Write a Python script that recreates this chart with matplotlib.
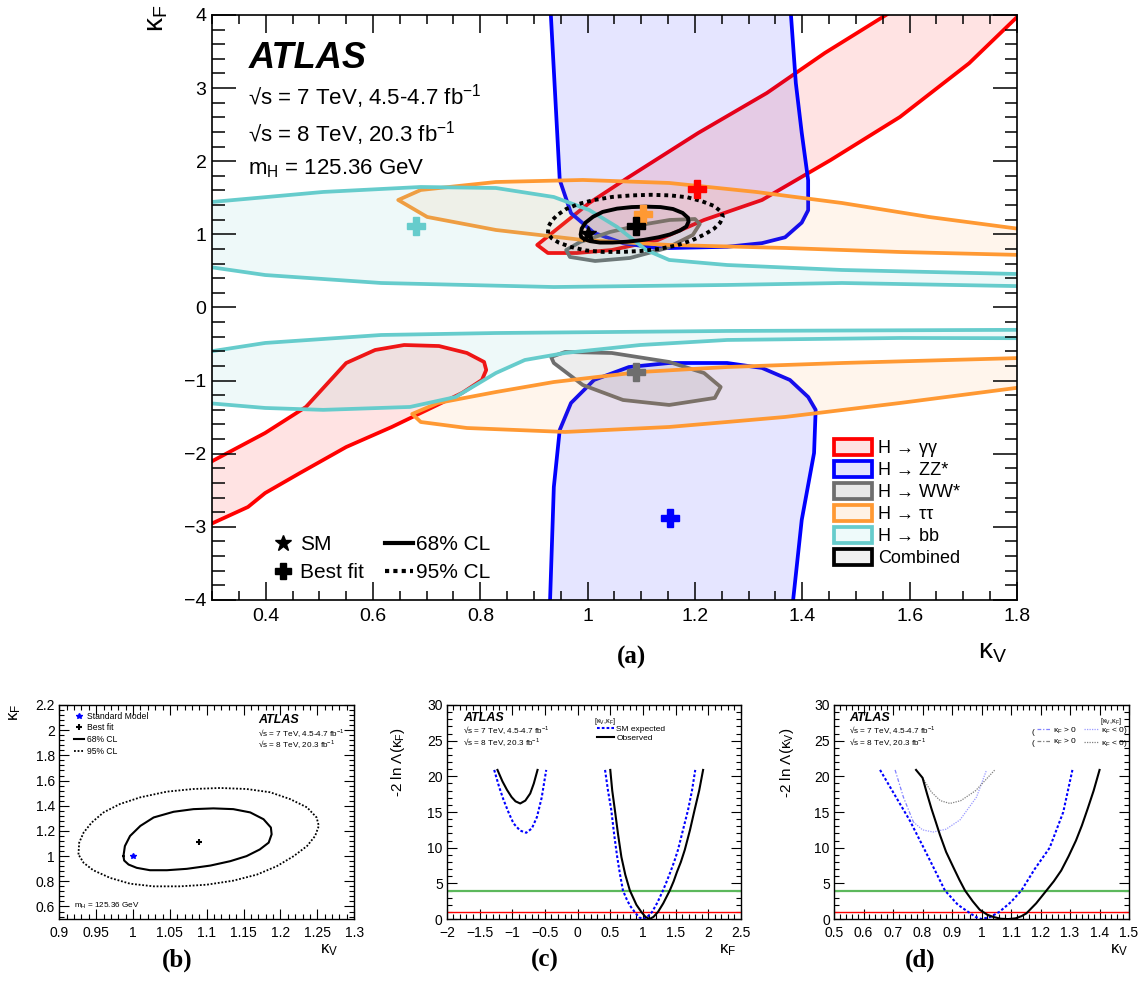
import matplotlib
matplotlib.use("Agg")
import matplotlib.pyplot as plt
from matplotlib.patches import Patch
from matplotlib.lines import Line2D
from matplotlib.ticker import MultipleLocator, FuncFormatter

plt.rcParams["font.family"] = ["Liberation Sans", "DejaVu Sans"]
plt.rcParams["mathtext.fontset"] = "custom"
plt.rcParams["mathtext.rm"] = "Liberation Sans"
plt.rcParams["mathtext.it"] = "Liberation Sans:italic"
plt.rcParams["mathtext.bf"] = "Liberation Sans:bold"

# ---- panel (a): 68% CL contours per channel, (kappa_V, kappa_F) ----
gg_up_kv = [0.926, 0.906, 1.003, 1.077, 1.206, 1.334, 1.442, 1.60, 1.83, 1.80, 1.711, 1.582, 1.453, 1.325, 1.217, 1.131, 1.045, 0.980]
gg_up_kf = [0.745, 0.855, 1.429, 1.785, 2.386, 2.933, 3.48, 4.2, 4.2, 3.97, 3.34, 2.605, 2.017, 1.47, 1.197, 0.923, 0.786, 0.745]
gg_lo_kv = [0.28, 0.399, 0.475, 0.550, 0.604, 0.658, 0.723, 0.775, 0.807, 0.811, 0.803, 0.766, 0.701, 0.635, 0.550, 0.464, 0.399, 0.367, 0.28]
gg_lo_kf = [-2.18, -1.716, -1.36, -0.759, -0.581, -0.513, -0.527, -0.622, -0.745, -0.855, -0.991, -1.169, -1.40, -1.634, -1.908, -2.263, -2.537, -2.728, -3.02]

zz_up_kv = [0.930, 0.948, 0.969, 1.012, 1.066, 1.131, 1.260, 1.325, 1.368, 1.399, 1.411, 1.411, 1.399, 1.388, 1.377]
zz_up_kf = [4.2, 1.744, 1.29, 1.02, 0.88, 0.81, 0.83, 0.88, 0.96, 1.16, 1.33, 1.74, 2.39, 3.07, 4.2]
zz_lo_kv = [0.929, 0.930, 0.937, 0.948, 0.969, 1.012, 1.077, 1.152, 1.260, 1.325, 1.377, 1.411, 1.425, 1.422, 1.399, 1.383, 1.381]
zz_lo_kf = [-4.2, -4.0, -2.455, -1.675, -1.306, -0.991, -0.814, -0.759, -0.759, -0.827, -0.991, -1.224, -1.40, -1.99, -2.906, -4.0, -4.2]

ww_up_kv = [0.960, 0.986, 1.042, 1.098, 1.153, 1.200, 1.209, 1.196, 1.148, 1.079, 1.014, 0.967]
ww_up_kf = [0.786, 0.896, 1.033, 1.128, 1.197, 1.210, 1.142, 0.992, 0.814, 0.677, 0.636, 0.691]
ww_lo_kv = [0.932, 0.958, 1.045, 1.152, 1.217, 1.248, 1.237, 1.152, 1.066, 0.991, 0.937]
ww_lo_kf = [-0.677, -0.608, -0.622, -0.745, -0.896, -1.087, -1.237, -1.333, -1.265, -1.060, -0.759]

tt_up_kv = [0.647, 0.689, 0.829, 0.991, 1.152, 1.314, 1.474, 1.636, 1.82, 1.82, 1.582, 1.368, 1.152, 0.991, 0.829, 0.701]
tt_up_kf = [1.470, 1.607, 1.716, 1.744, 1.703, 1.580, 1.429, 1.238, 1.06, 0.716, 0.759, 0.814, 0.855, 0.923, 1.060, 1.238]
tt_lo_kv = [0.673, 0.721, 0.829, 0.937, 1.098, 1.260, 1.474, 1.82, 1.82, 1.582, 1.368, 1.152, 0.958, 0.775, 0.689]
tt_lo_kf = [-1.456, -1.306, -1.156, -1.019, -0.882, -0.814, -0.759, -0.688, -1.08, -1.306, -1.497, -1.634, -1.702, -1.648, -1.566]

bb_up_kv = [0.28, 0.507, 0.689, 0.829, 0.937, 1.003, 1.055, 1.109, 1.152, 1.260, 1.474, 1.82, 1.82, 1.474, 1.260, 0.937, 0.615, 0.399, 0.28]
bb_up_kf = [1.43, 1.580, 1.648, 1.634, 1.511, 1.333, 1.101, 0.786, 0.650, 0.581, 0.513, 0.455, 0.29, 0.335, 0.308, 0.280, 0.335, 0.444, 0.57]
bb_lo_kv = [0.28, 0.399, 0.615, 0.829, 1.045, 1.260, 1.82, 1.82, 1.582, 1.260, 1.098, 0.958, 0.883, 0.829, 0.754, 0.669, 0.507, 0.399, 0.28]
bb_lo_kf = [-0.62, -0.485, -0.376, -0.349, -0.335, -0.321, -0.305, -0.42, -0.417, -0.444, -0.513, -0.622, -0.718, -0.896, -1.224, -1.36, -1.40, -1.374, -1.30]

# combined contours (same in panels a and b)
cl68_kv = [0.987, 0.989, 0.996, 1.010, 1.028, 1.055, 1.082, 1.109, 1.136, 1.159, 1.177, 1.187, 1.188,
           1.184, 1.172, 1.154, 1.132, 1.105, 1.073, 1.046, 1.023, 1.005, 0.994, 0.988]
cl68_kf = [1.000, 1.080, 1.160, 1.240, 1.307, 1.352, 1.373, 1.379, 1.373, 1.347, 1.293, 1.227, 1.173,
           1.107, 1.053, 1.000, 0.960, 0.925, 0.899, 0.888, 0.888, 0.907, 0.933, 0.965]
cl95_kv = [0.926, 0.927, 0.933, 0.944, 0.960, 0.982, 1.010, 1.046, 1.082, 1.118, 1.154, 1.186, 1.213, 1.236,
           1.249, 1.252, 1.247, 1.236, 1.218, 1.195, 1.168, 1.136, 1.100, 1.064, 1.028, 0.996, 0.969, 0.946, 0.933]
cl95_kf = [1.013, 1.107, 1.187, 1.267, 1.347, 1.413, 1.467, 1.512, 1.533, 1.541, 1.533, 1.507, 1.453, 1.387,
           1.307, 1.240, 1.160, 1.080, 1.000, 0.920, 0.853, 0.805, 0.773, 0.760, 0.760, 0.781, 0.827, 0.888, 0.947]

# best-fit points: gg, ZZ, WW, tautau, bb, combined
bf_kv = [1.204, 1.153, 1.090, 1.103, 0.680, 1.09]
bf_kf = [1.62, -2.88, -0.88, 1.28, 1.115, 1.11]
sm_kv, sm_kf = 1.0, 1.0

# ---- panel (c): -2 ln Lambda(kappa_F) ----
c_obs_r_kf = [0.50, 0.53, 0.57, 0.62, 0.67, 0.73, 0.80, 0.86, 0.90, 0.975, 1.04, 1.10, 1.16, 1.23, 1.31,
              1.41, 1.47, 1.52, 1.58, 1.64, 1.72, 1.79, 1.86, 1.92]
c_obs_r_y = [20.9, 18.0, 15.3, 11.8, 8.7, 6.2, 4.0, 2.8, 2.0, 1.0, 0.3, 0.0, 0.3, 1.0, 2.2,
             4.0, 5.3, 6.6, 8.0, 9.7, 12.5, 15.3, 18.0, 20.9]
c_exp_r_kf = [0.42, 0.465, 0.515, 0.56, 0.606, 0.65, 0.694, 0.75, 0.80, 0.873, 0.94, 1.0, 1.06, 1.14,
              1.22, 1.306, 1.36, 1.42, 1.48, 1.536, 1.61, 1.69, 1.75, 1.80]
c_exp_r_y = [20.9, 18.0, 15.3, 11.8, 8.7, 6.2, 4.0, 2.8, 1.9, 1.0, 0.25, 0.0, 0.25, 1.0,
             2.3, 4.0, 5.2, 6.6, 8.1, 9.7, 12.4, 15.3, 18.0, 20.9]
c_obs_l_kf = [-1.226, -1.15, -1.08, -1.01, -0.95, -0.878, -0.80, -0.725, -0.67, -0.613]
c_obs_l_y = [20.9, 19.3, 18.1, 17.1, 16.5, 16.2, 16.6, 17.6, 19.0, 20.9]
c_exp_l_kf = [-1.276, -1.20, -1.133, -1.05, -0.98, -0.88, -0.786, -0.70, -0.622, -0.55, -0.48]
c_exp_l_y = [20.9, 18.5, 16.7, 14.8, 13.4, 12.4, 12.1, 12.7, 14.3, 17.0, 20.9]

# ---- panel (d): -2 ln Lambda(kappa_V) ----
d_exp_kv = [0.656, 0.70, 0.757, 0.80, 0.84, 0.876, 0.92, 0.955, 0.98, 1.0, 1.03, 1.06, 1.10, 1.135,
            1.18, 1.231, 1.277, 1.308]
d_exp_y = [20.9, 17.8, 13.8, 10.3, 7.0, 4.0, 2.0, 1.0, 0.3, 0.0, 0.3, 1.0, 2.4, 4.0,
           7.0, 10.0, 15.0, 20.9]
d_obs_kv = [0.778, 0.80, 0.815, 0.83, 0.845, 0.859, 0.88, 0.904, 0.925, 0.944, 0.97, 0.994, 1.02, 1.04,
            1.065, 1.09, 1.115, 1.135, 1.152, 1.185, 1.22, 1.245, 1.27, 1.295, 1.32, 1.34, 1.36, 1.38, 1.40]
d_obs_y = [20.9, 19.8, 17.6, 15.5, 13.6, 11.8, 9.4, 7.3, 5.5, 4.0, 2.5, 1.3, 0.6, 0.3,
           0.05, 0.0, 0.1, 0.4, 0.8, 2.2, 4.0, 5.3, 6.8, 8.8, 11.0, 13.1, 15.5, 18.0, 20.9]
d_exp_pos_kv = [0.707, 0.735, 0.769]
d_exp_pos_y = [20.9, 17.1, 13.6]
d_exp_neg_kv = [0.769, 0.80, 0.836, 0.88, 0.927, 0.983, 1.017]
d_exp_neg_y = [13.6, 12.5, 12.2, 12.6, 13.9, 17.1, 20.9]
d_obs_neg_kv = [0.80, 0.83, 0.86, 0.893, 0.93, 0.98, 1.045]
d_obs_neg_y = [19.8, 17.8, 16.6, 16.2, 16.6, 18.0, 20.9]


def num(v, pos):
    v = round(v, 6)
    if v == 0:
        v = 0.0
    return ("%g" % v).replace("-", "\u2212")


red, blue, grey, orange, cyan = "#ff0000", "#0000ff", "#6e6e6e", "#ff9933", "#66cccc"
fills = {red: (1, 0, 0, 0.11), blue: (0, 0, 1, 0.10), grey: (0.43, 0.43, 0.43, 0.12),
         orange: (1, 0.6, 0.2, 0.09), cyan: (0.4, 0.8, 0.8, 0.11)}

fig = plt.figure(figsize=(11.4, 9.99), dpi=100)

# ================= (a) =================
ax = fig.add_axes([0.186, 0.3994, 0.706, 0.5856])
shapes = [(gg_up_kv, gg_up_kf, red), (gg_lo_kv, gg_lo_kf, red),
          (zz_up_kv, zz_up_kf, blue), (zz_lo_kv, zz_lo_kf, blue),
          (ww_up_kv, ww_up_kf, grey), (ww_lo_kv, ww_lo_kf, grey),
          (tt_up_kv, tt_up_kf, orange), (tt_lo_kv, tt_lo_kf, orange),
          (bb_up_kv, bb_up_kf, cyan), (bb_lo_kv, bb_lo_kf, cyan)]
for kv, kf, col in shapes:
    ax.fill(kv, kf, facecolor=fills[col], edgecolor=col, lw=2.7, joinstyle="round")

ax.fill(cl68_kv, cl68_kf, facecolor=(0.5, 0.5, 0.5, 0.06), edgecolor="k", lw=2.8)
ax.plot(cl95_kv + cl95_kv[:1], cl95_kf + cl95_kf[:1], color="k", lw=2.8, ls=(0, (1, 1)))

bf_cols = [red, blue, grey, orange, cyan, "k"]
for x, y, c in zip(bf_kv, bf_kf, bf_cols):
    ax.plot(x, y, marker="P", ms=13, color=c, mec=c, ls="none", zorder=5)
ax.plot(sm_kv, sm_kf, marker="*", ms=12, color="k", ls="none", zorder=6)

ax.set_xlim(0.3, 1.8)
ax.set_ylim(-4, 4)
ax.xaxis.set_major_locator(MultipleLocator(0.2))
ax.xaxis.set_minor_locator(MultipleLocator(0.05))
ax.yaxis.set_major_locator(MultipleLocator(1))
ax.yaxis.set_minor_locator(MultipleLocator(0.2))
ax.xaxis.set_major_formatter(FuncFormatter(num))
ax.yaxis.set_major_formatter(FuncFormatter(num))
ax.tick_params(which="both", direction="in", top=True, right=True, labelsize=14, width=1.1)
ax.tick_params(axis="x", which="major", length=13, pad=6)
ax.tick_params(axis="x", which="minor", length=6.5)
ax.tick_params(axis="y", which="major", length=17, pad=4)
ax.tick_params(axis="y", which="minor", length=9)
for s in ax.spines.values():
    s.set_linewidth(1.2)

ax.text(0.045, 0.926, "ATLAS", transform=ax.transAxes, fontsize=26, fontweight="bold",
        fontstyle="italic", va="center")
ax.text(0.045, 0.861, "√s = 7 TeV, 4.5-4.7 fb$^{-1}$", transform=ax.transAxes, fontsize=16, va="center")
ax.text(0.045, 0.798, "√s = 8 TeV, 20.3 fb$^{-1}$", transform=ax.transAxes, fontsize=16, va="center")
ax.text(0.045, 0.738, "m$_{\\rm H}$ = 125.36 GeV", transform=ax.transAxes, fontsize=16, va="center")

leg_cols = [red, blue, grey, orange, cyan, "k"]
leg_fill = ["#ffe3e3", "#e3e3ff", "#e8e8e8", "#fff2e6", "#eefafa", "#f0f0f0"]
leg_labels = ["H → γγ", "H → ZZ*", "H → WW*", "H → ττ", "H → bb", "Combined"]
handles = [Patch(facecolor=f, edgecolor=c, lw=2.7) for c, f in zip(leg_cols, leg_fill)]
leg1 = ax.legend(handles, leg_labels, loc="upper left", bbox_to_anchor=(0.773, 0.275),
                 frameon=False, fontsize=13, handlelength=2.1, handleheight=0.95,
                 labelspacing=0.22, handletextpad=0.35, borderpad=0, borderaxespad=0)
ax.add_artist(leg1)

h2 = [Line2D([], [], marker="*", ms=12, color="k", ls="none"),
      Line2D([], [], marker="P", ms=12, color="k", ls="none"),
      Line2D([], [], color="k", lw=3),
      Line2D([], [], color="k", lw=3, ls=(0, (1, 1)))]
ax.legend(h2, ["SM", "Best fit", "68% CL", "95% CL"], ncol=2, loc="lower left",
          bbox_to_anchor=(0.071, 0.03), frameon=False, fontsize=15, handlelength=1.35,
          handletextpad=0.15, labelspacing=0.45, columnspacing=1.0, borderpad=0,
          borderaxespad=0)

fig.text(0.138, 0.982, "κ$_{\\rm F}$", rotation=90, fontsize=20, ha="center", va="center")
fig.text(0.871, 0.347, "κ$_{\\rm V}$", fontsize=20, ha="center", va="center")


def small_axes(a):
    a.tick_params(which="both", direction="in", top=True, right=True, labelsize=10, width=0.8)
    a.tick_params(which="major", length=7, pad=3)
    a.tick_params(axis="x", which="major", pad=5)
    a.tick_params(which="minor", length=3.5)
    a.xaxis.set_major_formatter(FuncFormatter(num))
    a.yaxis.set_major_formatter(FuncFormatter(num))
    for s in a.spines.values():
        s.set_linewidth(1.0)


def lumi_text(a, x, y, size=9):
    a.text(x, y, "ATLAS", transform=a.transAxes, fontsize=size, fontweight="bold",
           fontstyle="italic", va="center")
    a.text(x, y - 0.058, "√s = 7 TeV, 4.5-4.7 fb$^{-1}$", transform=a.transAxes, fontsize=5.9, va="center")
    a.text(x, y - 0.112, "√s = 8 TeV, 20.3 fb$^{-1}$", transform=a.transAxes, fontsize=5.9, va="center")


# ================= (b) =================
axb = fig.add_axes([0.052, 0.080, 0.2587, 0.2143])
axb.plot(cl68_kv + cl68_kv[:1], cl68_kf + cl68_kf[:1], color="k", lw=1.5)
axb.plot(cl95_kv + cl95_kv[:1], cl95_kf + cl95_kf[:1], color="k", lw=1.3, ls=(0, (1, 1)))
axb.plot(sm_kv, sm_kf, marker="*", ms=4, color="blue", ls="none")
axb.plot(bf_kv[-1], bf_kf[-1], marker="+", ms=5, mew=1.5, color="k", ls="none")
axb.set_xlim(0.9, 1.3)
axb.set_ylim(0.5, 2.2)
axb.xaxis.set_major_locator(MultipleLocator(0.05))
axb.xaxis.set_minor_locator(MultipleLocator(0.01))
axb.yaxis.set_major_locator(MultipleLocator(0.2))
axb.yaxis.set_minor_locator(MultipleLocator(0.04))
small_axes(axb)
lumi_text(axb, 0.674, 0.928)
axb.text(0.05, 0.06, "m$_{\\rm H}$ = 125.36 GeV", transform=axb.transAxes, fontsize=5.9, va="center")
hb = [Line2D([], [], marker="*", ms=4, color="blue", ls="none"),
      Line2D([], [], marker="+", ms=5, mew=1.5, color="k", ls="none"),
      Line2D([], [], color="k", lw=1.5),
      Line2D([], [], color="k", lw=1.3, ls=(0, (1, 1)))]
axb.legend(hb, ["Standard Model", "Best fit", "68% CL", "95% CL"], loc="upper left",
           bbox_to_anchor=(0.05, 0.968), frameon=False, fontsize=6.2, handlelength=1.2,
           handletextpad=0.25, labelspacing=0.3, borderpad=0, borderaxespad=0)
fig.text(0.013, 0.287, "κ$_{\\rm F}$", rotation=90, fontsize=12, ha="center", va="center")
fig.text(0.289, 0.049, "κ$_{\\rm V}$", fontsize=12, ha="center", va="center")

# ================= (c) =================
axc = fig.add_axes([0.392, 0.080, 0.258, 0.2143])
axc.axhline(4, color="#5cb85c", lw=1.6)
axc.axhline(1, color="red", lw=1.0)
axc.plot(c_exp_r_kf, c_exp_r_y, color="blue", lw=1.5, ls=(0, (1.3, 1)))
axc.plot(c_exp_l_kf, c_exp_l_y, color="blue", lw=1.5, ls=(0, (1.3, 1)))
axc.plot(c_obs_r_kf, c_obs_r_y, color="k", lw=1.5)
axc.plot(c_obs_l_kf, c_obs_l_y, color="k", lw=1.5)
axc.set_xlim(-2, 2.5)
axc.set_ylim(0, 30)
axc.xaxis.set_major_locator(MultipleLocator(0.5))
axc.xaxis.set_minor_locator(MultipleLocator(0.1))
axc.yaxis.set_major_locator(MultipleLocator(5))
axc.yaxis.set_minor_locator(MultipleLocator(1))
small_axes(axc)
lumi_text(axc, 0.054, 0.94)
axc.text(0.499, 0.922, "[κ$_{\\rm V}$,κ$_{\\rm F}$]", transform=axc.transAxes, fontsize=5.2, va="center")
hc = [Line2D([], [], color="blue", lw=1.5, ls=(0, (1.3, 1))), Line2D([], [], color="k", lw=1.5)]
axc.legend(hc, ["SM expected", "Observed"], loc="upper left", bbox_to_anchor=(0.51, 0.905),
           frameon=False, fontsize=6, handlelength=2.0, handletextpad=0.35, labelspacing=0.15,
           borderpad=0, borderaxespad=0)
fig.text(0.349, 0.237, "-2 ln Λ(κ$_{\\rm F}$)", rotation=90, fontsize=11, ha="center", va="center")
fig.text(0.638, 0.049, "κ$_{\\rm F}$", fontsize=12, ha="center", va="center")

# ================= (d) =================
axd = fig.add_axes([0.7316, 0.080, 0.2588, 0.2143])
axd.axhline(4, color="#5cb85c", lw=1.6)
axd.axhline(1, color="red", lw=1.0)
axd.plot(d_exp_pos_kv, d_exp_pos_y, color="#8080ff", lw=0.9, ls=(0, (3, 1.5, 1, 1.5)))
axd.plot(d_exp_neg_kv, d_exp_neg_y, color="#9a9aff", lw=0.9, ls=(0, (1, 1)))
axd.plot(d_obs_neg_kv, d_obs_neg_y, color="#808080", lw=0.9, ls=(0, (1, 1)))
axd.plot(d_exp_kv, d_exp_y, color="blue", lw=1.5, ls=(0, (1.3, 1)))
axd.plot(d_obs_kv, d_obs_y, color="k", lw=1.5)
axd.set_xlim(0.5, 1.5)
axd.set_ylim(0, 30)
axd.xaxis.set_major_locator(MultipleLocator(0.1))
axd.xaxis.set_minor_locator(MultipleLocator(0.02))
axd.yaxis.set_major_locator(MultipleLocator(5))
axd.yaxis.set_minor_locator(MultipleLocator(1))
small_axes(axd)
lumi_text(axd, 0.052, 0.94)
axd.text(0.975, 0.922, "[κ$_{\\rm V}$,κ$_{\\rm F}$]", transform=axd.transAxes, fontsize=5.2,
         va="center", ha="right")
hd = [Line2D([], [], color="blue", lw=1.5, ls=(0, (1.3, 1))), Line2D([], [], color="k", lw=1.5)]
axd.legend(hd, ["SM expected", "Observed"], loc="upper left", bbox_to_anchor=(0.416, 0.905),
           frameon=False, fontsize=6, handlelength=2.0, handletextpad=0.35, labelspacing=0.15,
           borderpad=0, borderaxespad=0)
hd2 = [Line2D([], [], color="#8080ff", lw=0.9, ls=(0, (3, 1.5, 1, 1.5))),
       Line2D([], [], color="#808080", lw=0.9, ls=(0, (3, 1.5, 1, 1.5))),
       Line2D([], [], color="#9a9aff", lw=0.9, ls=(0, (1, 1))),
       Line2D([], [], color="#808080", lw=0.9, ls=(0, (1, 1)))]
axd.legend(hd2, ["κ$_{\\rm F}$ > 0", "κ$_{\\rm F}$ > 0", "κ$_{\\rm F}$ < 0)", "κ$_{\\rm F}$ < 0)"],
           ncol=2, loc="upper left", bbox_to_anchor=(0.687, 0.905), frameon=False, fontsize=6,
           handlelength=1.7, handletextpad=0.3, labelspacing=0.15, columnspacing=0.8,
           borderpad=0, borderaxespad=0)
axd.text(0.670, 0.872, "(", transform=axd.transAxes, fontsize=6, va="center")
axd.text(0.670, 0.822, "(", transform=axd.transAxes, fontsize=6, va="center")
fig.text(0.690, 0.237, "-2 ln Λ(κ$_{\\rm V}$)", rotation=90, fontsize=11, ha="center", va="center")
fig.text(0.982, 0.049, "κ$_{\\rm V}$", fontsize=12, ha="center", va="center")

for lab, x in [("(a)", 0.554), ("(b)", 0.155), ("(c)", 0.478), ("(d)", 0.807)]:
    y = 0.342 if lab == "(a)" else 0.039
    fig.text(x, y, lab, fontfamily="Liberation Serif", fontweight="bold", fontsize=18,
             ha="center", va="center")

fig.savefig("out.png", dpi=100)
